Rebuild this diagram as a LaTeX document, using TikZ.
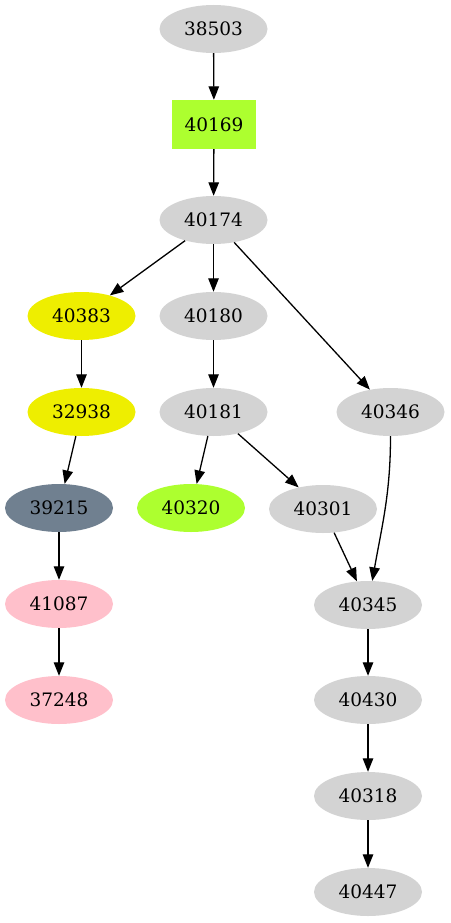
\documentclass[tikz,border=0pt]{standalone}
\usepackage{fontspec}
\setmainfont{DejaVu Serif}
\usetikzlibrary{shapes.geometric,arrows.meta}
\definecolor{lgray}{HTML}{D3D3D3}
\definecolor{gyellow}{HTML}{ADFF2F}
\definecolor{yel}{HTML}{EEEE00}
\definecolor{sgray}{HTML}{708090}
\definecolor{pinkc}{HTML}{FFC0CB}
\begin{document}
\begin{tikzpicture}[x=1pt,y=-1pt,
  every node/.style={font=\fontsize{18.5}{20}\selectfont, inner sep=0pt},
  ell/.style={ellipse, minimum width=108pt, minimum height=48pt, fill=#1},
  ell/.default=lgray,
  boxn/.style={rectangle, minimum width=84pt, minimum height=49pt, fill=gyellow},
  arr/.style={line width=1.3pt, -{Triangle[length=13.5pt,width=10.5pt]}}]
\useasboundingbox (0,0) rectangle (450,923);
\node[ell] (n38503) at (213.5,29) {38503};
\node[boxn] (n40169) at (214,124.5) {40169};
\node[ell] (n40174) at (213.5,220) {40174};
\node[ell=yel] (n40383) at (81.5,316) {40383};
\node[ell] (n40180) at (213.5,316) {40180};
\node[ell=yel] (n32938) at (81.5,412) {32938};
\node[ell] (n40181) at (213.5,412) {40181};
\node[ell] (n40346) at (390.5,412) {40346};
\node[ell=sgray] (n39215) at (59,508) {39215};
\node[ell=gyellow] (n40320) at (191,508) {40320};
\node[ell] (n40301) at (323,509) {40301};
\node[ell=pinkc] (n41087) at (59,604) {41087};
\node[ell] (n40345) at (368,605) {40345};
\node[ell=pinkc] (n37248) at (59,700) {37248};
\node[ell] (n40430) at (368,700) {40430};
\node[ell] (n40318) at (368,796) {40318};
\node[ell] (n40447) at (368,892) {40447};
\draw[arr] (n38503) -- (n40169);
\draw[arr] (n40169) -- (n40174);
\draw[arr] (n40174) -- (n40383);
\draw[arr] (n40174) -- (n40180);
\draw[arr] (n40174) -- (n40346);
\draw[arr] (n40383) -- (n32938);
\draw[arr] (n40180) -- (n40181);
\draw[arr] (n32938) -- (n39215);
\draw[arr] (n40181) -- (n40320);
\draw[arr] (n40181) -- (n40301);
\draw[arr] (n40346) to[out=-90,in=80] (n40345);
\draw[arr] (n40301) -- (n40345);
\draw[arr] (n39215) -- (n41087);
\draw[arr] (n41087) -- (n37248);
\draw[arr] (n40345) -- (n40430);
\draw[arr] (n40430) -- (n40318);
\draw[arr] (n40318) -- (n40447);
\end{tikzpicture}
\end{document}
